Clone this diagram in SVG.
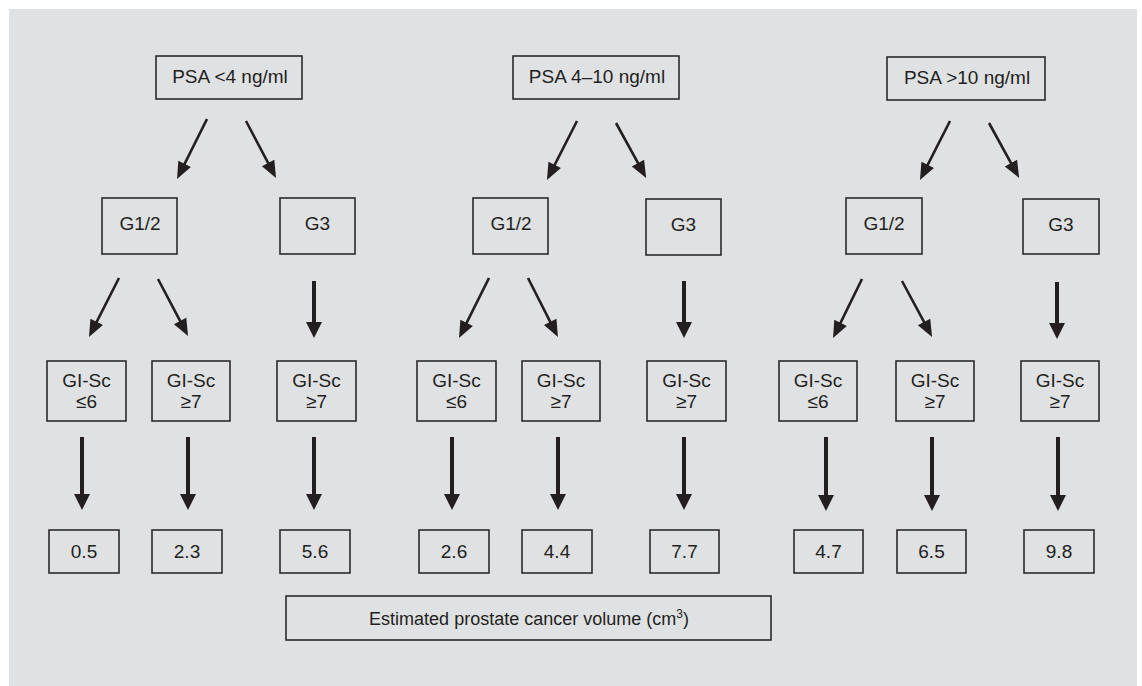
<svg xmlns="http://www.w3.org/2000/svg" width="1142" height="686" viewBox="0 0 1142 686">
<defs>
<style>
.box{fill:none;stroke:#2b2b2d;stroke-width:1.6}
.t{font-family:"Liberation Sans",Arial,sans-serif;font-size:19px;fill:#231f20;text-anchor:middle}
.d{stroke:#231f20;stroke-width:2.6;fill:none;marker-end:url(#hd)}
.v{stroke:#231f20;stroke-width:4;fill:none;marker-end:url(#hv)}
</style>
<marker id="hd" markerUnits="userSpaceOnUse" markerWidth="17" markerHeight="14" refX="9" refY="7" orient="auto" overflow="visible">
<path d="M0,0 L17,7 L0,14 z" fill="#231f20"/>
</marker>
<marker id="hv" markerUnits="userSpaceOnUse" markerWidth="16" markerHeight="16" refX="8" refY="8" orient="auto" overflow="visible">
<path d="M0,0 L16,8 L0,16 z" fill="#231f20"/>
</marker>
</defs>
<rect x="0" y="0" width="1142" height="686" fill="#ffffff"/>
<rect x="9" y="9" width="1128" height="677" fill="#e0e1e3"/>

<g id="psa1"><rect class="box" x="156" y="56" width="146" height="43"/><text class="t" x="230" y="83">PSA &lt;4 ng/ml</text></g>
<g id="psa2"><rect class="box" x="513" y="56" width="166" height="43"/><text class="t" x="597" y="83">PSA 4–10 ng/ml</text></g>
<g id="psa3"><rect class="box" x="887" y="57" width="158" height="43"/><text class="t" x="967" y="84">PSA &gt;10 ng/ml</text></g>

<g id="g12a"><rect class="box" x="102" y="198" width="75" height="56"/><text class="t" x="140" y="230">G1/2</text></g>
<g id="g3a"><rect class="box" x="280" y="198" width="75" height="56"/><text class="t" x="317.5" y="230">G3</text></g>
<g id="g12b"><rect class="box" x="473" y="198" width="75" height="56"/><text class="t" x="511" y="230">G1/2</text></g>
<g id="g3b"><rect class="box" x="646" y="199" width="75" height="56"/><text class="t" x="683.5" y="231">G3</text></g>
<g id="g12c"><rect class="box" x="846" y="198" width="76" height="56"/><text class="t" x="884" y="230">G1/2</text></g>
<g id="g3c"><rect class="box" x="1023" y="199" width="76" height="55"/><text class="t" x="1061" y="231">G3</text></g>

<g id="gs1"><rect class="box" x="47" y="361" width="79" height="60"/><text class="t" x="86.5" y="387">GI-Sc</text><text class="t" x="86.5" y="408">≤6</text></g>
<g id="gs2"><rect class="box" x="152" y="361" width="78" height="60"/><text class="t" x="191" y="387">GI-Sc</text><text class="t" x="191" y="408">≥7</text></g>
<g id="gs3"><rect class="box" x="277" y="361" width="79" height="60"/><text class="t" x="316.5" y="387">GI-Sc</text><text class="t" x="316.5" y="408">≥7</text></g>
<g id="gs4"><rect class="box" x="417" y="361" width="79" height="60"/><text class="t" x="456.5" y="387">GI-Sc</text><text class="t" x="456.5" y="408">≤6</text></g>
<g id="gs5"><rect class="box" x="522" y="361" width="78" height="60"/><text class="t" x="561" y="387">GI-Sc</text><text class="t" x="561" y="408">≥7</text></g>
<g id="gs6"><rect class="box" x="647" y="361" width="79" height="60"/><text class="t" x="686.5" y="387">GI-Sc</text><text class="t" x="686.5" y="408">≥7</text></g>
<g id="gs7"><rect class="box" x="779" y="361" width="78" height="60"/><text class="t" x="818" y="387">GI-Sc</text><text class="t" x="818" y="408">≤6</text></g>
<g id="gs8"><rect class="box" x="896" y="361" width="78" height="60"/><text class="t" x="935" y="387">GI-Sc</text><text class="t" x="935" y="408">≥7</text></g>
<g id="gs9"><rect class="box" x="1021" y="361" width="78" height="60"/><text class="t" x="1060" y="387">GI-Sc</text><text class="t" x="1060" y="408">≥7</text></g>

<g id="v1"><rect class="box" x="49" y="530" width="70" height="43"/><text class="t" x="84" y="558">0.5</text></g>
<g id="v2"><rect class="box" x="152" y="530" width="70" height="43"/><text class="t" x="187" y="558">2.3</text></g>
<g id="v3"><rect class="box" x="280" y="530" width="70" height="43"/><text class="t" x="315" y="558">5.6</text></g>
<g id="v4"><rect class="box" x="419" y="530" width="70" height="43"/><text class="t" x="454" y="558">2.6</text></g>
<g id="v5"><rect class="box" x="522" y="530" width="70" height="43"/><text class="t" x="557" y="558">4.4</text></g>
<g id="v6"><rect class="box" x="650" y="530" width="69" height="43"/><text class="t" x="684.5" y="558">7.7</text></g>
<g id="v7"><rect class="box" x="794" y="530" width="69" height="43"/><text class="t" x="828.5" y="558">4.7</text></g>
<g id="v8"><rect class="box" x="897" y="530" width="69" height="43"/><text class="t" x="931.5" y="558">6.5</text></g>
<g id="v9"><rect class="box" x="1024" y="530" width="70" height="43"/><text class="t" x="1059" y="558">9.8</text></g>

<g id="legend"><rect class="box" x="286" y="596" width="485" height="44"/><text class="t" x="529" y="625" style="font-size:18px">Estimated prostate cancer volume (cm<tspan style="font-size:12px" dy="-7">3</tspan><tspan dy="7">)</tspan></text></g>

<g id="connectors">
<line class="d" x1="207" y1="119" x2="180.6" y2="171.9"/>
<line class="d" x1="246" y1="121" x2="272.3" y2="170.9"/>
<line class="d" x1="577" y1="121" x2="550.6" y2="172.9"/>
<line class="d" x1="616" y1="123" x2="642.3" y2="170.9"/>
<line class="d" x1="950" y1="121" x2="923.6" y2="172.9"/>
<line class="d" x1="989" y1="123" x2="1015.3" y2="170.9"/>

<line class="d" x1="119" y1="278" x2="92.6" y2="329.9"/>
<line class="d" x1="158" y1="279" x2="184.3" y2="328.9"/>
<line class="d" x1="489" y1="278" x2="462.6" y2="330.9"/>
<line class="d" x1="528" y1="278" x2="554.3" y2="329.9"/>
<line class="d" x1="862" y1="279" x2="836.6" y2="330.9"/>
<line class="d" x1="902" y1="281" x2="928.3" y2="329.9"/>

<line class="v" x1="314" y1="281" x2="314" y2="330"/>
<line class="v" x1="684" y1="281" x2="684" y2="330"/>
<line class="v" x1="1057" y1="282" x2="1057" y2="331"/>

<line class="v" x1="82" y1="437" x2="82" y2="502"/>
<line class="v" x1="188" y1="437" x2="188" y2="502"/>
<line class="v" x1="314" y1="437" x2="314" y2="502"/>
<line class="v" x1="452" y1="437" x2="452" y2="502"/>
<line class="v" x1="558" y1="437" x2="558" y2="502"/>
<line class="v" x1="684" y1="437" x2="684" y2="502"/>
<line class="v" x1="826" y1="437" x2="826" y2="503"/>
<line class="v" x1="932" y1="437" x2="932" y2="503"/>
<line class="v" x1="1058" y1="437" x2="1058" y2="503"/>
</g>
</svg>
